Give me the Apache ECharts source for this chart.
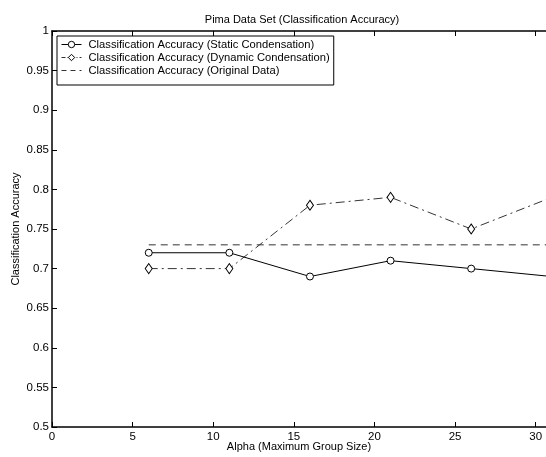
<!DOCTYPE html>
<html>
<head>
<meta charset="utf-8">
<script src="https://cdn.jsdelivr.net/npm/echarts@6/dist/echarts.min.js"></script>
<style>html,body{margin:0;padding:0;background:#fff;}#c{width:546px;height:457px;}</style>
</head>
<body>
<div id="c"></div>
<script>
const alphaValues = [6, 11, 16, 21, 26, 31];
const staticAccuracy = [0.72, 0.72, 0.69, 0.71, 0.70, 0.69];
const dynamicAccuracy = [0.70, 0.70, 0.78, 0.79, 0.75, 0.79];
const originalAccuracy = [0.73, 0.73, 0.73, 0.73, 0.73, 0.73];
const seriesNames = [
  'Classification Accuracy (Static Condensation)',
  'Classification Accuracy (Dynamic Condensation)',
  'Classification Accuracy (Original Data)'
];
const xTicks = [0, 5, 10, 15, 20, 25, 30];
const yTicks = [0.5, 0.55, 0.6, 0.65, 0.7, 0.75, 0.8, 0.85, 0.9, 0.95, 1];

const pair = (ys) => alphaValues.map((x, i) => [x, ys[i]]);
const FONT = 'Liberation Sans, Arial, sans-serif';
const DASH_DOT = [9, 4, 2, 4];
const DASH = [7, 5];
const chart = echarts.init(document.getElementById('c'), null, {renderer: 'canvas'});
const axisCommon = {
  axisLine: {show: true, lineStyle: {color: '#000', width: 1.5}},
  axisTick: {show: true, inside: true, length: 5, lineStyle: {color: '#000', width: 1}},
  splitLine: {show: false}
};
chart.setOption({
  animation: false,
  backgroundColor: '#fff',
  textStyle: {fontFamily: FONT},
  title: {
    text: 'Pima Data Set (Classification Accuracy)',
    left: 297, top: 9, textAlign: 'center',
    textStyle: {fontSize: 11, fontWeight: 'normal', color: '#000', fontFamily: FONT}
  },
  legend: {
    orient: 'vertical', left: 57, top: 36,
    backgroundColor: '#fff', borderColor: '#000', borderWidth: 1,
    padding: [3, 4, 9, 4], itemGap: 2, itemWidth: 20, itemHeight: 8,
    textStyle: {fontSize: 11.2, color: '#000', fontFamily: FONT, padding: [0, 0, 0, 2]},
    lineStyle: {width: 1},
    data: [
      {name: seriesNames[0], lineStyle: {width: 1, type: 'solid', color: '#000'},
        itemStyle: {color: '#fff', borderColor: '#000', borderWidth: 1}},
      {name: seriesNames[1], lineStyle: {width: 0.8, type: [4, 2, 1, 2], color: '#000'},
        itemStyle: {color: '#fff', borderColor: '#000', borderWidth: 1}},
      {name: seriesNames[2], lineStyle: {width: 1, type: [5, 4], color: '#333'},
        itemStyle: {opacity: 0}}
    ]
  },
  grid: {left: 52, right: 0, top: 31, bottom: 30, containLabel: false, outerBoundsMode: 'none'},
  xAxis: [
    Object.assign({}, axisCommon, {
      type: 'value', min: 0, max: 30.64, interval: 5, position: 'bottom',
      name: 'Alpha (Maximum Group Size)', nameLocation: 'middle', nameGap: 14,
      nameMoveOverlap: false,
      nameTextStyle: {fontSize: 11, color: '#000', fontFamily: FONT},
      axisLabel: {color: '#000', fontSize: 11.5, margin: 4, fontFamily: FONT,
        formatter: v => xTicks.includes(Math.round(v * 1000) / 1000) ? String(v) : ''}
    }),
    Object.assign({}, axisCommon, {
      type: 'value', min: 0, max: 30.64, interval: 5, position: 'top',
      axisLabel: {show: false}
    })
  ],
  yAxis: Object.assign({}, axisCommon, {
    type: 'value', min: 0.5, max: 1, interval: 0.05,
    name: 'Classification Accuracy', nameLocation: 'middle', nameGap: 31,
    nameMoveOverlap: false,
    nameTextStyle: {fontSize: 11, color: '#000', fontFamily: FONT},
    axisLabel: {color: '#000', fontSize: 11.5, margin: 3, fontFamily: FONT,
      formatter: v => {
        const r = Math.round(v * 100) / 100;
        return yTicks.includes(r) ? String(r) : '';
      }}
  }),
  series: [
    {
      name: seriesNames[0], type: 'line', data: pair(staticAccuracy),
      symbol: 'circle', symbolSize: 7, showAllSymbol: true,
      lineStyle: {color: '#000', width: 1, type: 'solid'},
      itemStyle: {color: '#fff', borderColor: '#000', borderWidth: 1}
    },
    {
      name: seriesNames[1], type: 'line', data: pair(dynamicAccuracy),
      symbol: 'diamond', symbolSize: [7, 10], showAllSymbol: true,
      lineStyle: {color: '#000', width: 0.8, type: DASH_DOT},
      itemStyle: {color: '#fff', borderColor: '#000', borderWidth: 1}
    },
    {
      name: seriesNames[2], type: 'line', data: pair(originalAccuracy),
      symbol: 'none',
      lineStyle: {color: '#333', width: 1, type: DASH},
      itemStyle: {color: '#333'}
    }
  ]
});
</script>
</body>
</html>
